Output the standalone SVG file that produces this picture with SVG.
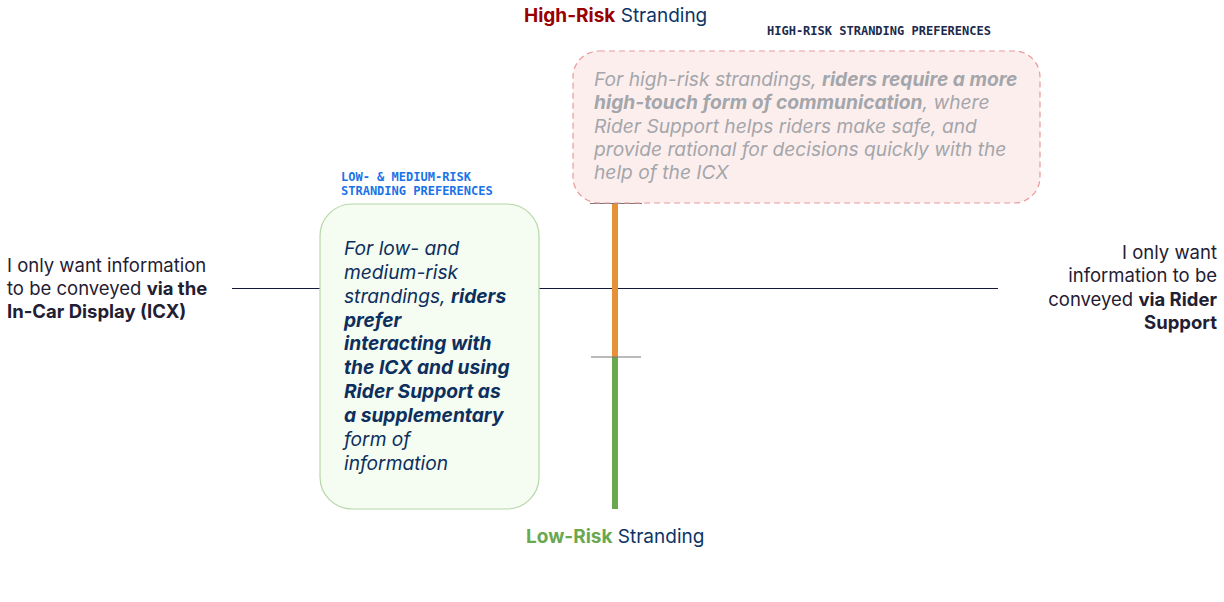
<svg xmlns="http://www.w3.org/2000/svg" width="1224" height="602" viewBox="0 0 1224 602">
<style>
.t{font-family:Inter,"Liberation Sans",sans-serif;}
.mono{font-family:"DejaVu Sans Mono","Liberation Mono",monospace;font-weight:bold;font-size:12px;}
.hb{font-size:19.2px;font-style:italic;fill:#a3a6aa;}
.lb{font-size:19.2px;font-style:italic;fill:#0d2f5e;}
.side{font-size:18.5px;fill:#1f2033;}
.b{font-weight:bold;}
.ttl{font-size:19px;fill:#0d3466;}
</style>
<rect width="1224" height="602" fill="#ffffff"/>
<g id="connectors">
<line x1="232" y1="288.5" x2="998" y2="288.5" stroke="#14183a" stroke-width="1.2"/>
<line x1="615" y1="203" x2="615" y2="357" stroke="#e69138" stroke-width="6"/>
<line x1="615" y1="357" x2="615" y2="509" stroke="#6aa84f" stroke-width="6"/>
<line x1="590" y1="203.5" x2="642" y2="203.5" stroke="#777777" stroke-width="1.2"/>
<line x1="591" y1="357" x2="641" y2="357" stroke="#777777" stroke-width="1.2"/>
</g>
<g id="high-title">
<text class="t ttl" x="524" y="22"><tspan class="b" fill="#990000">High-Risk</tspan> Stranding</text>
</g>
<g id="low-title">
<text class="t ttl" x="526" y="543"><tspan class="b" fill="#6aa84f">Low-Risk</tspan> Stranding</text>
</g>
<g id="high-pref">
<text class="mono" x="767" y="35" fill="#1c2a4d">HIGH-RISK STRANDING PREFERENCES</text>
<rect x="573" y="51" width="467" height="152" rx="26" fill="#fdeeee" stroke="#ea9999" stroke-width="1.2" stroke-dasharray="6 4"/>
<text class="t hb" x="594" y="86">For high-risk strandings, <tspan class="b">riders require a more</tspan></text>
<text class="t hb" x="594" y="109"><tspan class="b">high-touch form of communication</tspan>, where</text>
<text class="t hb" x="594" y="133">Rider Support helps riders make safe, and</text>
<text class="t hb" x="594" y="156">provide rational for decisions quickly with the</text>
<text class="t hb" x="594" y="179">help of the ICX</text>
</g>
<g id="low-pref">
<text class="mono" x="341" y="181" fill="#1a73e8">LOW- &amp; MEDIUM-RISK</text>
<text class="mono" x="341" y="195" fill="#1a73e8">STRANDING PREFERENCES</text>
<rect x="320" y="204" width="219" height="305" rx="32" fill="#f5fcf1" stroke="#b6d7a8" stroke-width="1.2"/>
<text class="t lb" x="344" y="255">For low- and</text>
<text class="t lb" x="344" y="279">medium-risk</text>
<text class="t lb" x="344" y="303">strandings, <tspan class="b">riders</tspan></text>
<text class="t lb b" x="344" y="327">prefer</text>
<text class="t lb b" x="344" y="350">interacting with</text>
<text class="t lb b" x="344" y="374">the ICX and using</text>
<text class="t lb b" x="344" y="398">Rider Support as</text>
<text class="t lb b" x="344" y="422">a supplementary</text>
<text class="t lb" x="344" y="446">form of</text>
<text class="t lb" x="344" y="470">information</text>
</g>
<g id="left-pole">
<text class="t side" x="7" y="272">I only want information</text>
<text class="t side" x="7" y="295">to be conveyed <tspan class="b">via the</tspan></text>
<text class="t side b" x="7" y="318">In-Car Display (ICX)</text>
</g>
<g id="right-pole">
<text class="t side" x="1217" y="259" text-anchor="end">I only want</text>
<text class="t side" x="1217" y="282" text-anchor="end">information to be</text>
<text class="t side" x="1217" y="306" text-anchor="end">conveyed <tspan class="b">via Rider</tspan></text>
<text class="t side b" x="1217" y="329" text-anchor="end">Support</text>
</g>
</svg>
